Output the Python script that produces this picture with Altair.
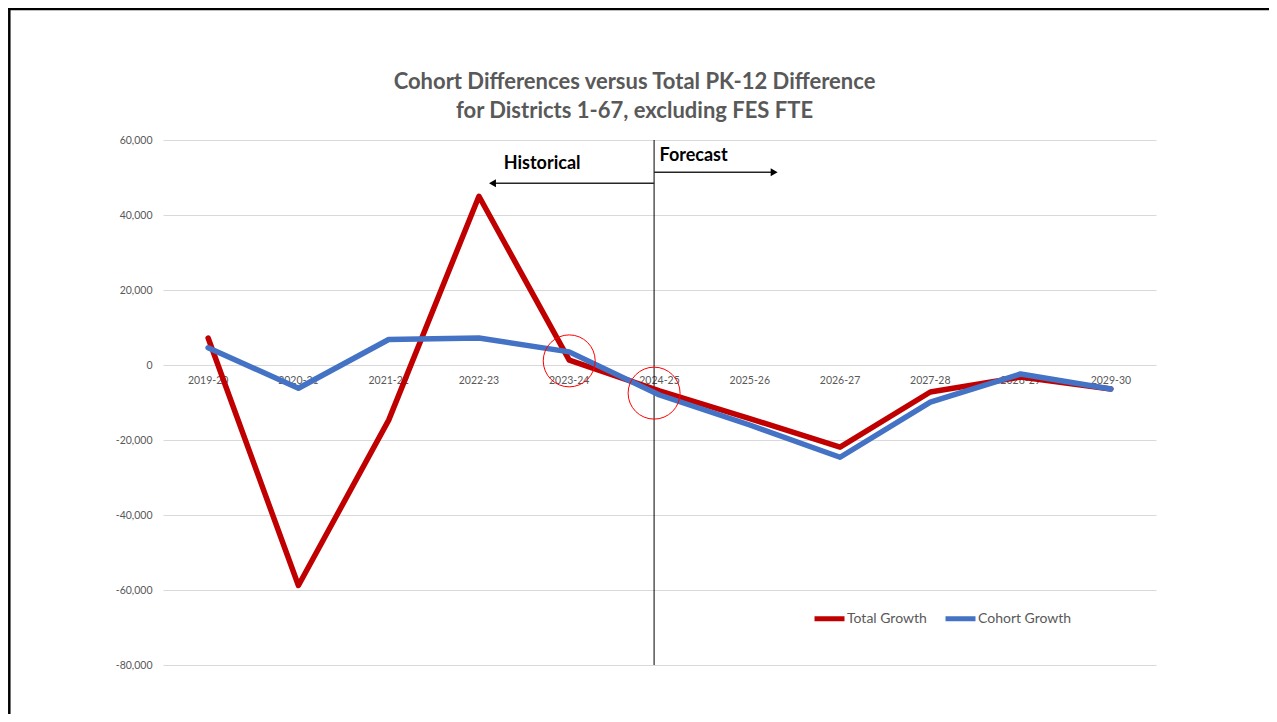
import altair as alt
import pandas as pd

categories = ["2019-20", "2020-21", "2021-22", "2022-23", "2023-24", "2024-25",
              "2025-26", "2026-27", "2027-28", "2028-29", "2029-30"]
total_growth = [7200, -58800, -14700, 45000, 1300, -6900, -14300, -21900, -7200, -3200, -6400]
cohort_growth = [4600, -6200, 6800, 7200, 3500, -8000, -16000, -24600, -9900, -2400, -6400]
y_ticks = [-80000, -60000, -40000, -20000, 0, 20000, 40000, 60000]

series_names = ["Total Growth", "Cohort Growth"]
series_colors = ["#C00000", "#4472C4"]

divider_idx = 4.94
hist_arrow = {"x": 4.94, "x2": 3.15, "y": 48500}
fore_arrow = {"x": 4.94, "x2": 6.27, "y": 51400}
hist_note = {"label": "Historical", "x": 3.70, "y": 53600}
fore_note = {"label": "Forecast", "x": 5.00, "y": 55700}
circles = [{"x": 4.0, "y": 1100}, {"x": 4.94, "y": -7500}]

FONT = "Lato"
GRAY = "#595959"

xs = alt.Scale(domain=[-0.5, 10.5], nice=False, zero=False)
ys = alt.Scale(domain=[-80000, 60000], nice=False, zero=False)

df_total = pd.DataFrame({"idx": list(range(len(categories))), "value": total_growth, "series": "Total Growth"})
df_cohort = pd.DataFrame({"idx": list(range(len(categories))), "value": cohort_growth, "series": "Cohort Growth"})
df_cat = pd.DataFrame({"idx": list(range(len(categories))), "cat": categories, "zero": 0})

color = alt.Color(
    "series:N",
    scale=alt.Scale(domain=series_names, range=series_colors),
    legend=alt.Legend(
        title=None, orient="none", legendX=649, legendY=461, direction="horizontal",
        symbolType="stroke", symbolSize=900, symbolStrokeWidth=5,
        labelFontSize=14, labelColor=GRAY, labelFont=FONT, labelOffset=0,
        columnPadding=8,
    ),
)

yaxis = alt.Axis(
    values=y_ticks, grid=True, gridColor="#D9D9D9", gridWidth=1, domain=False, ticks=False,
    labelExpr="(datum.value < 0 ? '-' : '') + format(abs(datum.value), ',')",
    labelColor=GRAY, labelFontSize=10.5, labelFont=FONT, labelPadding=11, title=None,
)

def line_layer(df):
    return alt.Chart(df).mark_line(strokeWidth=5.5, strokeCap="round", strokeJoin="round").encode(
        x=alt.X("idx:Q", scale=xs, axis=None),
        y=alt.Y("value:Q", scale=ys, axis=yaxis),
        color=color,
    )

red = line_layer(df_total)
blue = line_layer(df_cohort)

xlabels = alt.Chart(df_cat).mark_text(
    fontSize=10.5, font=FONT, color=GRAY, dy=16, baseline="middle"
).encode(x=alt.X("idx:Q", scale=xs, axis=None), y=alt.Y("zero:Q", scale=ys, axis=yaxis), text="cat:N")

divider = alt.Chart(pd.DataFrame({"x": [divider_idx], "y": [60000], "y2": [-80000]})).mark_rule(
    color="#000000", strokeWidth=1
).encode(x=alt.X("x:Q", scale=xs, axis=None), y=alt.Y("y:Q", scale=ys, axis=yaxis), y2="y2:Q")

arrows_df = pd.DataFrame([hist_arrow, fore_arrow])
arrow_lines = alt.Chart(arrows_df).mark_rule(color="#262626", strokeWidth=1.5).encode(
    x=alt.X("x:Q", scale=xs, axis=None), x2="x2:Q", y=alt.Y("y:Q", scale=ys, axis=yaxis)
)
head_left = alt.Chart(pd.DataFrame([hist_arrow])).mark_point(
    shape="triangle-left", filled=True, color="#000000", size=64, opacity=1
).encode(x=alt.X("x2:Q", scale=xs, axis=None), y=alt.Y("y:Q", scale=ys, axis=yaxis))
head_right = alt.Chart(pd.DataFrame([fore_arrow])).mark_point(
    shape="triangle-right", filled=True, color="#000000", size=64, opacity=1
).encode(x=alt.X("x2:Q", scale=xs, axis=None), y=alt.Y("y:Q", scale=ys, axis=yaxis))

note_c = alt.Chart(pd.DataFrame([hist_note])).mark_text(
    fontSize=18, fontWeight="bold", font=FONT, color="#000000", align="center", baseline="middle"
).encode(x=alt.X("x:Q", scale=xs, axis=None), y=alt.Y("y:Q", scale=ys, axis=yaxis), text="label:N")
note_l = alt.Chart(pd.DataFrame([fore_note])).mark_text(
    fontSize=18, fontWeight="bold", font=FONT, color="#000000", align="left", baseline="middle"
).encode(x=alt.X("x:Q", scale=xs, axis=None), y=alt.Y("y:Q", scale=ys, axis=yaxis), text="label:N")

circ = alt.Chart(pd.DataFrame(circles)).mark_point(
    shape="circle", filled=False, color="#FF0000", strokeWidth=1, size=2700, opacity=1
).encode(x=alt.X("x:Q", scale=xs, axis=None), y=alt.Y("y:Q", scale=ys, axis=yaxis))

# decorative frame (top and left edges of the slide border)
frame_left = alt.Chart(pd.DataFrame({"a": [0]})).mark_rule(color="#000000", strokeWidth=2.5).encode(
    x=alt.value(-153.7), y=alt.value(-132), y2=alt.value(600)
)
frame_top = alt.Chart(pd.DataFrame({"a": [0]})).mark_rule(color="#000000", strokeWidth=2.5).encode(
    x=alt.value(-155), x2=alt.value(1120), y=alt.value(-131)
)

chart = alt.layer(
    xlabels, divider, arrow_lines, head_left, head_right, note_c, note_l,
    red, blue, circ, frame_left, frame_top
).properties(
    width=993, height=525,
    autosize=alt.AutoSizeParams(type="none"),
    padding={"left": 155, "top": 132, "right": 113, "bottom": 49},
    title=alt.Title(
        ["Cohort Differences versus Total PK-12 Difference", "for Districts 1-67, excluding FES FTE"],
        fontSize=22, font=FONT, fontWeight="bold", color=GRAY, anchor="middle",
        frame="group", dx=-25, offset=-116, lineHeight=29,
    ),
).configure_view(stroke=None)

chart.save("out.html", embed_options={"renderer": "svg", "actions": False})
